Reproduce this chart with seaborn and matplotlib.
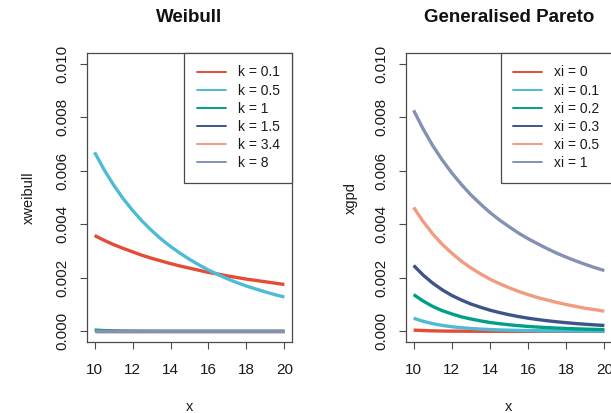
import numpy as np
import pandas as pd
import matplotlib
matplotlib.use("Agg")
import matplotlib.pyplot as plt
from matplotlib.lines import Line2D
import seaborn as sns

# ---------------- data ----------------
x_vals = [10, 10.5, 11, 11.5, 12, 12.5, 13, 13.5, 14, 14.5, 15,
          15.5, 16, 16.5, 17, 17.5, 18, 18.5, 19, 19.5, 20]

weibull_labels = ["k = 0.1", "k = 0.5", "k = 1", "k = 1.5", "k = 3.4", "k = 8"]
weibull_k01 = [0.00358, 0.00340, 0.00324, 0.00310, 0.00297, 0.00284, 0.00273, 0.00263,
               0.00253, 0.00244, 0.00236, 0.00228, 0.00220, 0.00214, 0.00207, 0.00201,
               0.00195, 0.00190, 0.00185, 0.00180, 0.00175]
weibull_k05 = [0.00669, 0.00604, 0.00547, 0.00496, 0.00452, 0.00412, 0.00377, 0.00345,
               0.00317, 0.00292, 0.00269, 0.00248, 0.00229, 0.00212, 0.00196, 0.00182,
               0.00169, 0.00158, 0.00147, 0.00137, 0.00128]
weibull_k1 = [0.000045, 0.000028, 0.000017, 0.000010, 0.000006, 0.000004, 0.000002, 0.0,
              0.0, 0.0, 0.0, 0.0, 0.0, 0.0, 0.0, 0.0, 0.0, 0.0, 0.0, 0.0, 0.0]
weibull_k15 = [0.0] * 21
weibull_k34 = [0.0] * 21
weibull_k8 = [0.0] * 21

gpd_labels = ["xi = 0", "xi = 0.1", "xi = 0.2", "xi = 0.3", "xi = 0.5", "xi = 1"]
gpd_xi0 = [0.000045, 0.000028, 0.000017, 0.000010, 0.000006, 0.000004, 0.000002, 0.0,
           0.0, 0.0, 0.0, 0.0, 0.0, 0.0, 0.0, 0.0, 0.0, 0.0, 0.0, 0.0, 0.0]
gpd_xi01 = [0.000488, 0.000372, 0.000286, 0.000220, 0.000171, 0.000134, 0.000105, 0.000083,
            0.000066, 0.000052, 0.000042, 0.000034, 0.000027, 0.000022, 0.000018, 0.000015,
            0.000012, 0.000010, 0.000008, 0.000007, 0.000006]
gpd_xi02 = [0.00137, 0.00113, 0.00093, 0.00077, 0.00065, 0.00054, 0.00046, 0.00039,
            0.00033, 0.000284, 0.000244, 0.000211, 0.000182, 0.000158, 0.000138, 0.000120,
            0.000106, 0.000093, 0.000082, 0.000072, 0.000064]
gpd_xi03 = [0.00246, 0.00210, 0.00180, 0.00155, 0.00134, 0.00117, 0.00102, 0.00090,
            0.00079, 0.00070, 0.00062, 0.00055, 0.00049, 0.00044, 0.000395, 0.000356,
            0.000321, 0.000290, 0.000263, 0.000239, 0.000218]
gpd_xi05 = [0.00463, 0.00410, 0.00364, 0.00325, 0.00292, 0.00262, 0.00237, 0.00215,
            0.00195, 0.00178, 0.00163, 0.00149, 0.00137, 0.00126, 0.00117, 0.00108,
            0.00100, 0.00093, 0.00086, 0.00081, 0.00075]
gpd_xi1 = [0.00826, 0.00756, 0.00694, 0.00640, 0.00592, 0.00549, 0.00510, 0.00476,
           0.00444, 0.00416, 0.00391, 0.00367, 0.00346, 0.00327, 0.00309, 0.00292,
           0.00277, 0.00263, 0.00250, 0.00238, 0.00227]

x_ticks = [10, 12, 14, 16, 18, 20]
y_ticks = [0.000, 0.002, 0.004, 0.006, 0.008, 0.010]

colors = ["#E64B35", "#4DBBD5", "#00A087", "#3C5488", "#F39B7F", "#8491B4"]

# ---------------- styling ----------------
sns.set_theme(style="white")
plt.rcParams["font.family"] = ["Liberation Sans", "DejaVu Sans"]

W, H = 611, 413
fig = plt.figure(figsize=(W / 100, H / 100), dpi=100)
fig.patch.set_facecolor("white")

axL = fig.add_axes([87 / W, (H - 342) / H, 205 / W, 289 / H])
axR = fig.add_axes([406 / W, (H - 342) / H, 206 / W, 289 / H])

edge = "#4a4a4a"


def long_df(series, labels):
    rows = []
    for lab, ys in zip(labels, series):
        for xv, yv in zip(x_vals, ys):
            rows.append((xv, yv, lab))
    return pd.DataFrame(rows, columns=["x", "y", "series"])


def panel(ax, series, labels, title, ylabel, ylabelpad):
    df = long_df(series, labels)
    sns.lineplot(data=df, x="x", y="y", hue="series", hue_order=labels,
                 palette=colors, linewidth=2.4, ax=ax, legend=False,
                 sort=False, errorbar=None)
    for ln in ax.get_lines():
        ln.set_solid_capstyle("butt")
        ln.set_solid_joinstyle("round")
    ax.set_xlim(9.6, 20.4)
    ax.set_ylim(-0.0004, 0.0104)
    ax.set_xticks(x_ticks)
    ax.set_xticklabels([str(t) for t in x_ticks])
    ax.set_yticks(y_ticks)
    ax.set_yticklabels([f"{t:.3f}" for t in y_ticks], rotation=90, va="center")
    ax.tick_params(axis="both", direction="out", length=5, width=0.8,
                   color=edge, labelsize=11, labelcolor="#1a1a1a",
                   bottom=True, left=True)
    ax.tick_params(axis="x", pad=10)
    ax.tick_params(axis="y", pad=7.5)
    for sp in ax.spines.values():
        sp.set_color(edge)
        sp.set_linewidth(0.9)
        sp.set_visible(True)
    ax.set_xlabel("x", fontsize=10.5, color="#1a1a1a", labelpad=17)
    ax.set_ylabel(ylabel, fontsize=10.5, color="#1a1a1a", labelpad=ylabelpad)
    ax.set_title(title, fontsize=13.5, fontweight="bold", pad=22, color="#111111")
    handles = [Line2D([0], [0], color=c, lw=1.4) for c in colors]
    leg = ax.legend(handles, labels, loc="upper right", bbox_to_anchor=(1.0, 1.0),
                    borderaxespad=0.0, frameon=True, fancybox=False, framealpha=1,
                    edgecolor=edge, fontsize=10, handlelength=2.1,
                    handletextpad=0.85, borderpad=0.9, labelspacing=0.3)
    leg.get_frame().set_linewidth(0.9)
    for t in leg.get_texts():
        t.set_color("#1a1a1a")


panel(axL, [weibull_k01, weibull_k05, weibull_k1, weibull_k15, weibull_k34, weibull_k8],
      weibull_labels, "Weibull", "xweibull", 14)
panel(axR, [gpd_xi0, gpd_xi01, gpd_xi02, gpd_xi03, gpd_xi05, gpd_xi1],
      gpd_labels, "Generalised Pareto", "xgpd", 12)

fig.savefig("out.png", dpi=100, facecolor="white")
